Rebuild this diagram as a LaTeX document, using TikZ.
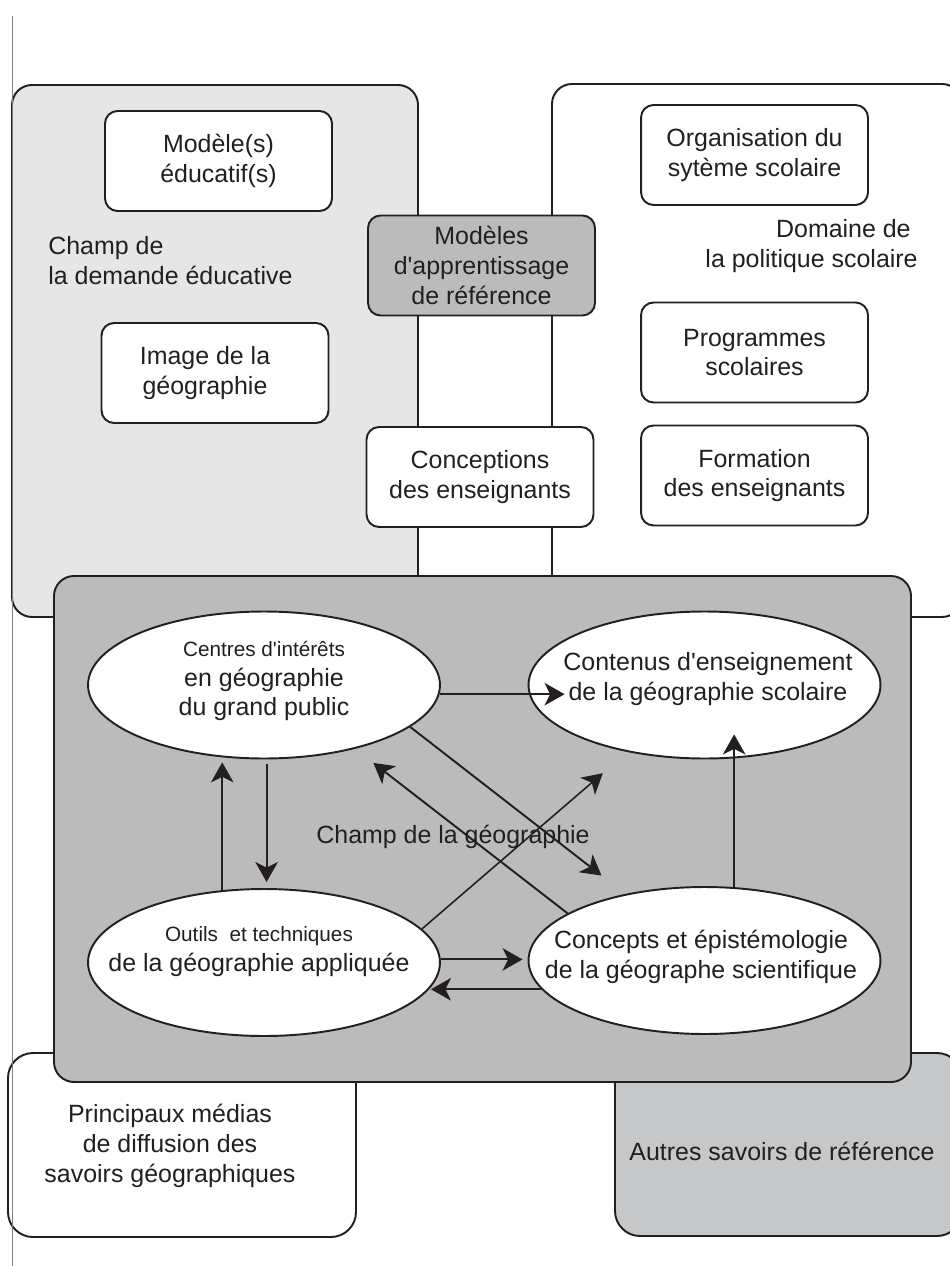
\documentclass[tikz,border=0pt]{standalone}
\usepackage{fontspec}
\setmainfont{Liberation Sans}
\usetikzlibrary{arrows.meta,shapes.geometric}
\definecolor{ink}{HTML}{231F20}
\definecolor{lightgrey}{HTML}{E6E6E6}
\definecolor{midgrey}{HTML}{BBBBBB}
\definecolor{palegrey}{HTML}{C6C7C9}
\newcommand{\txtfont}{\fontsize{14.2pt}{17pt}\selectfont}
\newcommand{\smfont}{\fontsize{11.8pt}{17pt}\selectfont}
\tikzset{
  zone/.style={draw=ink, line width=1.1pt, rounded corners=0.4cm},
  box/.style={draw=ink, fill=white, line width=1.1pt, rounded corners=0.25cm,
    minimum width=4.54cm, minimum height=2cm, inner sep=0pt,
    align=center, font=\txtfont, text=ink},
  ell/.style={draw=ink, fill=white, line width=1.1pt, ellipse,
    minimum width=7.04cm, minimum height=2.94cm, inner sep=0pt},
  lbl/.style={align=center, font=\txtfont, text=ink, inner sep=0pt},
  arr/.style={draw=ink, line width=1.1pt,
    -{Stealth[length=0.4cm,width=0.45cm,inset=0.11cm]}}
}
\begin{document}
\begin{tikzpicture}[x=0.02cm,y=-0.02cm]
\useasboundingbox (0,0) rectangle (949,1266);
\draw[zone, fill=lightgrey] (12,85) rectangle (418,617);
\draw[zone, fill=white] (552,84) rectangle (962,617);
\node[box] (mod) at (218.5,161) {Modèle(s)\\éducatif(s)};
\node[box] (img) at (215,373) {Image de la\rule{0.4cm}{0pt}\\géographie\rule{0.4cm}{0pt}};
\node[box, fill=midgrey] (app) at (481.5,265.5) {Modèles\\d\textquotesingle apprentissage\\de référence};
\node[box] (ens) at (480,477) {Conceptions\\des enseignants};
\node[box] (org) at (754.5,155) {Organisation du\\sytème scolaire};
\node[box] (prog) at (754.5,352.5) {Programmes\\scolaires};
\node[box] (form) at (754.5,475.5) {Formation\\des enseignants};
\node[lbl, align=left, anchor=west] (demande) at (48,261) {Champ de\\la demande éducative};
\node[lbl, align=right, anchor=east] (politique) at (918,246) {Domaine de\rule{0.14cm}{0pt}\\la politique scolaire};
\draw[zone, rounded corners=0.5cm, fill=white] (8,1053) rectangle (356,1237);
\draw[zone, rounded corners=0.5cm, fill=palegrey] (615,1053) rectangle (962,1236);
\draw[gray, line width=0.5pt] (12,16) -- (12,1266);
\node[lbl] (medias) at (170,1146) {Principaux médias\\de diffusion des\\savoirs géographiques};
\node[lbl] (autres) at (782,1151) {Autres savoirs de référence};
\draw[zone, fill=midgrey] (54,576) rectangle (911,1082);
\node[ell] (cen) at (264,685) {};
\node[ell] (con) at (704.5,685) {};
\node[ell] (out) at (264,962.5) {};
\node[ell] (cpt) at (704.5,960.5) {};
\node[lbl] (cen-t) at (264,681) {{\smfont Centres d\textquotesingle intérêts}\\en géographie\\du grand public};
\node[lbl] (con-t) at (708,679) {Contenus d\textquotesingle enseignement\\de la géographie scolaire};
\node[lbl] (out-t) at (259,951.5) {{\smfont Outils\ \ et techniques}\\de la géographie appliquée};
\node[lbl] (cpt-t) at (701,956.5) {Concepts et épistémologie\\de la géographe scientifique};
\node[lbl] (champ) at (453,837) {Champ de la géographie};
\draw[arr, shorten >=-0.74cm] (cen.-3) -- (cen.-3 -| con.west);
\draw[arr, shorten >=0.6cm] (cen.-16) -- (cpt.140);
\draw[arr, shorten >=0.46cm] (cpt.161) -- (cen.-35);
\draw[arr, shorten >=0.1cm] (out.120) -- (cen.240);
\draw[arr, shorten <=0.1cm, shorten >=0.12cm] (cen.-88) -- (out.88);
\draw[arr, line width=0.9pt, shorten >=0.65cm] (out.12) -- (con.221);
\draw[arr, shorten >=-0.48cm] (cpt.68) -- (con.-68);
\draw[arr, shorten >=0.1cm] (out.1) -- (out.1 -| cpt.west);
\draw[arr, shorten >=-0.2cm] (cpt.190) -- (cpt.190 -| out.east);
\end{tikzpicture}
\end{document}
